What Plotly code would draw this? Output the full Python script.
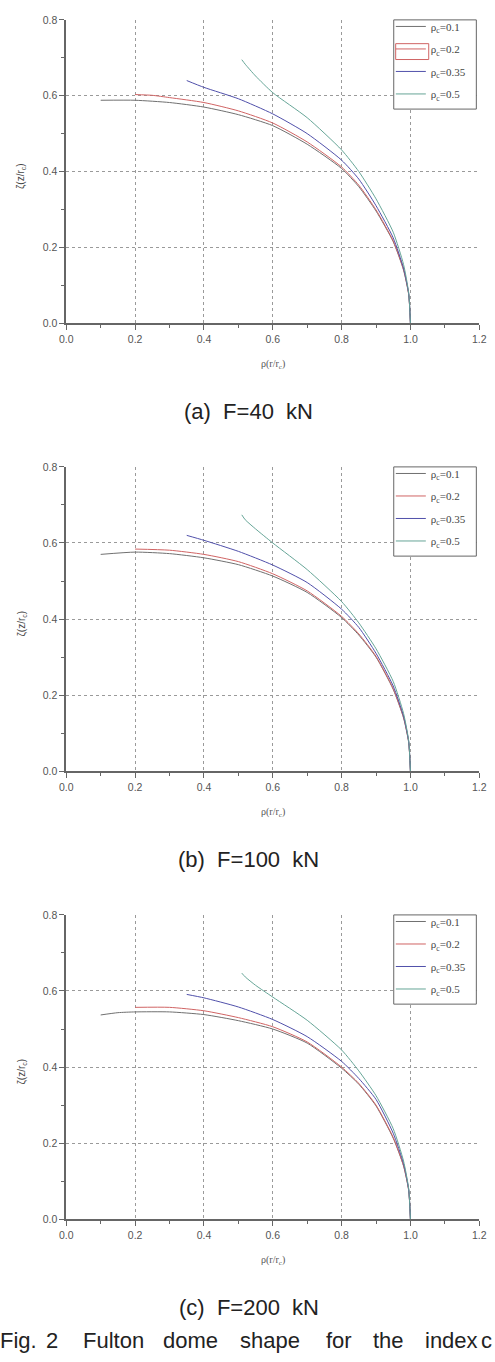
import plotly.graph_objects as go

W, H = 495, 1362

# ---------------- data ----------------
series_names = ["ρ<sub>c</sub>=0.1", "ρ<sub>c</sub>=0.2", "ρ<sub>c</sub>=0.35", "ρ<sub>c</sub>=0.5"]
series_colors = ["#707070", "#d06464", "#5050aa", "#66a597"]

x_tick_vals = [0.0, 0.2, 0.4, 0.6, 0.8, 1.0, 1.2]
y_tick_vals = [0.0, 0.2, 0.4, 0.6, 0.8]

# Panel (a) F=40 kN
a_x01 = [0.10, 0.20, 0.30, 0.40, 0.50, 0.60, 0.70, 0.80, 0.85, 0.90, 0.95, 0.98, 0.995, 1.0]
a_y01 = [0.588, 0.588, 0.582, 0.570, 0.550, 0.521, 0.472, 0.408, 0.360, 0.296, 0.215, 0.140, 0.075, 0.0]
a_x02 = [0.20, 0.25, 0.30, 0.40, 0.50, 0.60, 0.70, 0.80, 0.85, 0.90, 0.95, 0.98, 0.995, 1.0]
a_y02 = [0.603, 0.601, 0.595, 0.582, 0.560, 0.528, 0.478, 0.412, 0.364, 0.299, 0.217, 0.142, 0.076, 0.0]
a_x035 = [0.35, 0.40, 0.50, 0.60, 0.70, 0.80, 0.85, 0.90, 0.95, 0.98, 0.995, 1.0]
a_y035 = [0.640, 0.622, 0.592, 0.552, 0.500, 0.430, 0.380, 0.310, 0.225, 0.145, 0.078, 0.0]
a_x05 = [0.51, 0.52, 0.55, 0.60, 0.70, 0.80, 0.85, 0.90, 0.95, 0.98, 0.995, 1.0]
a_y05 = [0.695, 0.683, 0.652, 0.608, 0.542, 0.457, 0.400, 0.328, 0.240, 0.155, 0.080, 0.0]

# Panel (b) F=100 kN
b_x01 = [0.10, 0.20, 0.30, 0.40, 0.50, 0.60, 0.70, 0.80, 0.85, 0.90, 0.95, 0.98, 0.995, 1.0]
b_y01 = [0.570, 0.576, 0.572, 0.561, 0.543, 0.513, 0.470, 0.404, 0.358, 0.300, 0.215, 0.140, 0.075, 0.0]
b_x02 = [0.20, 0.30, 0.40, 0.50, 0.60, 0.70, 0.80, 0.85, 0.90, 0.95, 0.98, 0.995, 1.0]
b_y02 = [0.584, 0.581, 0.570, 0.551, 0.519, 0.474, 0.407, 0.361, 0.302, 0.217, 0.142, 0.076, 0.0]
b_x035 = [0.35, 0.40, 0.50, 0.60, 0.70, 0.80, 0.85, 0.90, 0.95, 0.98, 0.995, 1.0]
b_y035 = [0.620, 0.607, 0.578, 0.542, 0.496, 0.426, 0.378, 0.310, 0.224, 0.145, 0.078, 0.0]
b_x05 = [0.51, 0.52, 0.55, 0.60, 0.70, 0.80, 0.85, 0.90, 0.95, 0.98, 0.995, 1.0]
b_y05 = [0.674, 0.661, 0.637, 0.600, 0.530, 0.446, 0.390, 0.322, 0.236, 0.152, 0.080, 0.0]

# Panel (c) F=200 kN
c_x01 = [0.10, 0.15, 0.20, 0.30, 0.40, 0.50, 0.60, 0.70, 0.80, 0.85, 0.90, 0.95, 0.98, 0.995, 1.0]
c_y01 = [0.537, 0.543, 0.545, 0.545, 0.538, 0.522, 0.500, 0.463, 0.397, 0.355, 0.298, 0.213, 0.140, 0.075, 0.0]
c_x02 = [0.20, 0.30, 0.40, 0.50, 0.60, 0.70, 0.80, 0.85, 0.90, 0.95, 0.98, 0.995, 1.0]
c_y02 = [0.557, 0.557, 0.548, 0.530, 0.506, 0.466, 0.400, 0.357, 0.300, 0.215, 0.141, 0.076, 0.0]
c_x035 = [0.35, 0.40, 0.50, 0.60, 0.70, 0.80, 0.85, 0.90, 0.95, 0.98, 0.995, 1.0]
c_y035 = [0.591, 0.582, 0.558, 0.525, 0.480, 0.415, 0.370, 0.315, 0.226, 0.146, 0.078, 0.0]
c_x05 = [0.51, 0.52, 0.55, 0.60, 0.70, 0.80, 0.85, 0.90, 0.95, 0.98, 0.995, 1.0]
c_y05 = [0.647, 0.637, 0.615, 0.584, 0.523, 0.445, 0.390, 0.325, 0.238, 0.153, 0.080, 0.0]

panel_captions = ["(a)\u00a0\u00a0F=40\u00a0\u00a0kN", "(b)\u00a0\u00a0F=100\u00a0\u00a0kN", "(c)\u00a0\u00a0F=200\u00a0\u00a0kN"]
fig_caption_words = ["Fig.", "2", "Fulton", "dome", "shape", "for", "the", "index", "c"]

panels = [
    [(a_x01, a_y01), (a_x02, a_y02), (a_x035, a_y035), (a_x05, a_y05)],
    [(b_x01, b_y01), (b_x02, b_y02), (b_x035, b_y035), (b_x05, b_y05)],
    [(c_x01, c_y01), (c_x02, c_y02), (c_x035, c_y035), (c_x05, c_y05)],
]

# ---------------- layout geometry (pixels) ----------------
def px(x):
    return x / W

def py(y):
    return 1 - y / H

plot_left, plot_right = 61, 486
panel_tops = [14, 465, 917]
panel_bottoms = [320, 772, 1224]
legend_left, legend_right, legend_h = 398, 483, 90

fig = go.Figure()

tick_font = dict(family="Liberation Sans, Arial, sans-serif", size=10.5, color="#555")
minor_ticks = dict(ticks="outside", ticklen=3, tickcolor="#666", showgrid=False, dtick=0.1, tick0=0)

for i, series in enumerate(panels):
    n = "" if i == 0 else str(i + 1)
    leg = "legend" if i == 0 else f"legend{i + 1}"
    for j, (xs, ys) in enumerate(series):
        fig.add_trace(go.Scatter(
            x=xs, y=ys, mode="lines", name=series_names[j],
            line=dict(color=series_colors[j], width=1.0, shape="spline", smoothing=0.6),
            xaxis="x" + n, yaxis="y" + n, legend=leg,
            legendgroup=f"p{i}s{j}",
        ))

    axis_common = dict(
        showline=True, linecolor="#666", linewidth=1.6,
        showgrid=True, gridcolor="#9a9a9a", gridwidth=1, griddash="dot",
        zeroline=False, ticks="outside", ticklen=5, tickwidth=1, tickcolor="#666",
        tickfont=tick_font, tickformat=".1f",
    )
    fig.layout["xaxis" + n] = dict(
        axis_common, domain=[px(plot_left), px(plot_right)], range=[0, 1.2],
        tickvals=x_tick_vals, anchor="y" + n, minor=minor_ticks,
    )
    fig.layout["yaxis" + n] = dict(
        axis_common, domain=[py(panel_bottoms[i]), py(panel_tops[i])], range=[0, 0.8],
        tickvals=y_tick_vals, anchor="x" + n, minor=minor_ticks,
    )
    fig.layout[leg] = dict(
        x=px(legend_left - 3), xanchor="left", y=py(panel_tops[i] - 8), yanchor="top",
        bgcolor="rgba(0,0,0,0)", borderwidth=0,
        font=dict(family="Liberation Serif, Times New Roman, serif", size=11, color="#444"),
        tracegroupgap=3.5, itemwidth=30,
    )
    # legend box (white background hides the grid lines)
    fig.add_shape(type="rect", xref="paper", yref="paper", layer="above",
                  x0=px(legend_left), x1=px(legend_right),
                  y0=py(panel_tops[i] + legend_h), y1=py(panel_tops[i]),
                  line=dict(color="#666", width=1), fillcolor="white")

    # axis titles
    fig.add_annotation(x=px(274), y=py(panel_bottoms[i] + 42), xref="paper", yref="paper",
                       xanchor="center", yanchor="middle",
                       text="ρ(r/r<sub>c</sub>)", showarrow=False,
                       font=dict(family="Liberation Serif, Times New Roman, serif", size=10, color="#555"))
    fig.add_annotation(x=px(15), y=py((panel_tops[i] + panel_bottoms[i]) / 2 + 5), xref="paper", yref="paper",
                       xanchor="center", yanchor="middle",
                       text="ζ(z/r<sub>c</sub>)", showarrow=False, textangle=-90,
                       font=dict(family="Liberation Sans, Arial, sans-serif", size=10, color="#444"))
    # panel caption
    fig.add_annotation(x=px(249), y=py(panel_bottoms[i] + 89), xref="paper", yref="paper",
                       xanchor="center", yanchor="middle",
                       text=panel_captions[i], showarrow=False,
                       font=dict(family="Liberation Sans, Arial, sans-serif", size=22, color="#222"))

# red legend-sample box artifact in panel (a)
fig.add_shape(type="rect", xref="paper", yref="paper", layer="above",
              x0=px(400), x1=px(434), y0=py(54), y1=py(38),
              line=dict(color="#d06464", width=1), fillcolor="rgba(0,0,0,0)")

# figure caption (justified words)
word_left_px = [-9, 38, 76, 158, 238, 326, 375, 428, 486]
for word, xl in zip(fig_caption_words, word_left_px):
    fig.add_annotation(x=px(xl), y=py(1346), xref="paper", yref="paper",
                       xanchor="left", yanchor="middle",
                       text=word, showarrow=False,
                       font=dict(family="Liberation Sans, Arial, sans-serif", size=22, color="#222"))

fig.update_layout(
    width=W, height=H, margin=dict(l=0, r=0, t=0, b=0),
    paper_bgcolor="white", plot_bgcolor="white", showlegend=True,
)

fig.write_html("out.html")
